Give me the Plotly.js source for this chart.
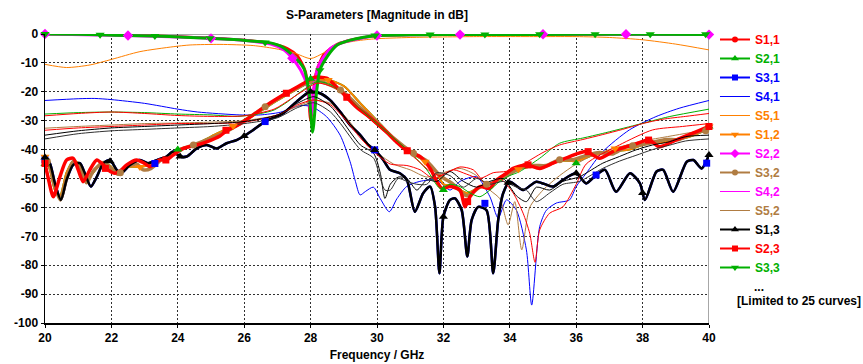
<!DOCTYPE html>
<html><head><meta charset="utf-8">
<script src="https://cdn.plot.ly/plotly-3.0.1.min.js"></script>
<style>body{margin:0;background:#fff}#chart{width:863px;height:364px}</style>
</head><body><div id="chart"></div>
<script>
// ---------- data (frequency in GHz, magnitude in dB) ----------
const xTicks = [20,22,24,26,28,30,32,34,36,38,40];
const yTicks = [0,-10,-20,-30,-40,-50,-60,-70,-80,-90,-100];

// S1,1 (red, circles) near 0 dB
const s11_f = [20,22,24,25,26,26.8,27.3,27.6,27.85,28.0,28.15,28.4,28.8,29.3,30,32,36,40];
const s11_db = [0,-0.3,-0.9,-1.4,-2.1,-3.2,-5,-7.5,-13,-30,-14,-7,-3.5,-1.8,-0.6,-0.2,-0.1,-0.1];

// S1,2 = S2,1 (shared trace data)
const s12_f = [20,20.15,20.3,20.45,20.65,20.85,21.05,21.25,21.45,21.7,21.95,22.2,22.5,22.86,23.2,23.5,23.8,24.0,24.5,25,25.67,26.3,27,27.6,28,28.53,29,29.5,30,30.5,31,31.45,31.8,32.0,32.3,32.7,33.1,33.5,33.9,34.26,34.7,35.1,35.5,36.0,36.5,37.17,37.6,38.1,38.6,39.1,39.6,40];
const s12_db = [-42.5,-47,-54,-56,-48,-44,-45,-50,-48,-44.5,-45.5,-48,-46,-46,-45,-43.5,-42,-40,-38.5,-35.5,-31.8,-28,-23,-19,-16.5,-15.9,-18,-24,-30,-36,-41,-44,-48,-52,-52.5,-55,-53,-51.5,-49,-46.8,-45.8,-45.5,-43.8,-44,-42,-40.5,-40,-38,-37.5,-36.5,-34.8,-32.5];
const s12_mf = [20,22.86,25.67,28.53,31.45,34.26,37.17,40];
const s12_mdb = [-42.5,-46,-31.8,-15.9,-44.2,-46.8,-39.6,-32];
const s21_mf = [20,24,28,32,36,40];
const s21_mdb = [-45,-40,-15.5,-54,-44.7,-32];

// S1,3 = S3,1 (shared trace data)
const s13_f = [20,20.15,20.3,20.48,20.65,20.85,21.05,21.2,21.38,21.56,21.76,21.96,22.16,22.31,22.56,22.86,23.1,23.4,23.66,23.86,24.07,24.27,24.57,24.87,25.17,25.47,25.77,26.0,26.27,26.63,27.18,27.58,27.98,28.28,28.58,28.89,29.19,29.49,29.74,29.93,30.19,30.39,30.69,30.9,31.14,31.39,31.6,31.75,31.88,32.0,32.2,32.35,32.55,32.72,32.85,33.05,33.3,33.5,33.65,33.8,34.0,34.4,34.8,35.3,35.6,36.0,36.3,36.6,36.87,37.2,37.62,37.92,38.07,38.42,38.62,38.92,39.33,39.53,39.78,40];
const s13_db = [-42.7,-44.8,-51.7,-57.4,-50.5,-45.3,-44.7,-48.2,-52.8,-49.4,-44.7,-43.6,-47,-48,-45.3,-43.6,-44.7,-43.5,-42.4,-40.7,-42.4,-42.4,-39.6,-38.4,-39.6,-37.8,-36.7,-35.3,-33.2,-30.3,-27.4,-23.4,-20,-20.5,-22.8,-26.9,-31.5,-34.9,-38.4,-40.1,-43.6,-47,-48.2,-50.5,-61.5,-55.1,-52.8,-59.8,-82.8,-63.2,-57.4,-56.9,-60.9,-77,-64.4,-59.8,-61,-82.8,-64.4,-55.1,-51.1,-54,-51.1,-52.8,-50.5,-48.2,-51.7,-48.8,-47,-54.6,-48.2,-51.7,-57.4,-47.6,-47,-54.6,-44.2,-43.6,-46.5,-41.9];
const s13_mf = [20,21.96,24.07,26,28,29.93,32,33.95,36,38,40];
const s13_mdb = [-42.7,-44,-42.4,-35.3,-20,-40.1,-63.2,-51.5,-48.2,-55,-41.9];
const s31_mf = [20,23.31,26.63,29.93,33.25,36.6,39.93];
const s31_mdb = [-43.5,-44.8,-30.3,-40.1,-58.6,-48.8,-44.7];

// S4,1 (blue thin)
const s41_f = [20,21,21.5,22,23,24,24.6,25.87,26.48,27.08,27.68,28.03,28.48,28.89,29.19,29.35,29.49,29.65,29.89,30.1,30.37,30.6,30.89,31.29,31.8,32.2,32.5,33.0,33.4,33.65,33.9,34.2,34.5,34.66,34.9,35.1,35.4,35.8,36.0,36.3,36.8,37.6,38.4,39.1,40];
const s41_db = [-23,-22.4,-22.3,-22.7,-24,-26,-27,-28,-28,-27.1,-24.8,-25.1,-28.6,-35,-44.2,-51,-55.7,-54.5,-53,-57,-61.5,-57,-52.8,-51,-50.5,-54,-51,-49.4,-56.3,-63.7,-57.4,-61,-74.7,-93.8,-66.7,-61,-58.5,-57.4,-52.8,-48.2,-40.7,-33.2,-28.6,-25.7,-23];

// S5,1 (orange thin)
const s51_f = [20,20.65,21.36,22,22.86,23.86,24.37,25.27,26.27,26.9,27.5,28.0,28.4,28.8,29.3,29.9,31,33,35,36,37,38,39,40];
const s51_db = [-10.5,-11.6,-10.7,-8.8,-6.1,-4.4,-3.8,-3.6,-4,-5,-6.5,-8.5,-6.5,-3.8,-2.5,-1.7,-1.2,-0.9,-0.9,-0.9,-1.2,-2,-3.5,-5.5];

// S2,2 (magenta, diamonds)
const s22_f = [20,22,22.5,24,25,26,26.8,27.2,27.45,27.7,27.9,28.02,28.15,28.3,28.6,29,29.5,30,32.5,35,37.5,40];
const s22_db = [0,-0.4,-0.5,-1,-1.5,-2.2,-3.5,-5.5,-8.4,-12.5,-18,-28,-16,-10,-5,-2.8,-1.5,-0.5,-0.2,-0.1,-0.1,-0.2];
const s22_mf = [20,22.5,25,27.45,30,32.5,35,37.5,40];
const s22_mdb = [0,-0.5,-1.5,-8.4,-0.5,-0.2,-0.1,-0.1,-0.2];

// S3,2 (brown thick, circles)
const s32_f = [20,20.15,20.3,20.46,20.65,20.85,21.05,21.25,21.45,21.76,21.95,22.2,22.45,22.76,22.96,23.2,23.5,23.8,24.07,24.47,25,25.5,26,26.63,27.3,27.9,28.3,28.9,29.5,30,30.5,31.1,31.5,31.9,32.3,32.7,33.1,33.5,33.9,34.3,34.7,35.1,35.5,35.9,36.3,36.7,37.1,37.5,37.9,38.3,38.7,39.1,39.5,40];
const s32_db = [-43,-46,-53,-57.4,-50,-44,-46,-51.5,-47.5,-44.5,-46,-48.5,-46,-45,-47,-46.5,-43.5,-42,-40,-38.4,-36,-33.5,-30,-25.2,-20.5,-17,-16.5,-19.4,-25.5,-30.5,-36,-41.3,-44,-49,-52,-56,-53,-51.5,-49,-46.5,-45.5,-45.5,-43.5,-43.5,-42,-41,-41.5,-39,-38.5,-37.5,-36.5,-36.5,-34.5,-33];
const s32_mf = [20.07,22.27,24.47,26.63,28.9,31.1,33.3,35.5,37.7,39.9];
const s32_mdb = [-44,-48,-38.4,-25.2,-19.4,-41.3,-52,-43.5,-38.7,-33.5];

// S4,2 (magenta thin)
const s42_f = [20,22,24,25,26,26.8,27.3,27.6,27.85,28.0,28.2,28.5,28.9,29.4,30,33,36,40];
const s42_db = [-0.1,-0.4,-1,-1.5,-2.2,-3.4,-5.5,-8.5,-14,-22,-11,-6,-3,-1.5,-0.6,-0.2,-0.2,-0.3];

// S5,2 (brown thin)
const s52_f = [20,21,22,23,24,25,26,27,27.6,28.1,28.6,29,29.5,30,30.5,31,31.5,32,32.5,33,33.4,33.7,33.95,34.15,34.36,34.6,35,35.5,36,36.5,37,37.5,38,38.5,39,39.5,40];
const s52_db = [-32.6,-32,-31.5,-31,-30.8,-30.5,-30,-28,-25,-23,-24,-28,-35,-41,-45,-47,-49.5,-48,-46.5,-49,-54,-57,-66,-58,-74.7,-60,-54,-49,-45,-42,-40,-38.5,-37,-36,-35,-34,-33.5];

// S2,3 (red thick, squares)
const s23_f = [20,20.1,20.25,20.45,20.65,20.85,21.0,21.15,21.35,21.56,21.76,21.9,22.1,22.3,22.46,22.76,23.0,23.16,23.46,23.66,23.86,24.17,24.57,24.87,25.27,25.47,25.87,26.27,26.68,27.26,27.88,28.1,28.48,28.8,29.09,29.4,29.69,30.0,30.29,30.6,30.9,31.3,31.6,31.8,31.95,32.2,32.5,32.65,32.8,33.1,33.4,33.6,33.9,34.1,34.5,34.9,35.3,35.8,36.3,36.7,37.2,37.7,38.2,38.5,39.0,39.5,40];
const s23_db = [-44.8,-50,-56.3,-49.4,-43.6,-43,-47,-51.1,-47,-43.6,-45.3,-47,-48.2,-47,-45.3,-43.6,-44.8,-45.9,-43.6,-43.6,-41.9,-39.6,-38.4,-37.3,-35.3,-33.5,-31.1,-28,-24.6,-20.5,-16.5,-15,-15.3,-18.5,-21.9,-25.5,-28,-31,-34,-37.5,-40.4,-42.4,-46.5,-51,-53.4,-52.8,-54,-59.8,-56.3,-52.8,-53.4,-50.5,-48.2,-46.5,-45.3,-46.5,-44.7,-42.4,-40.7,-43,-40.1,-38.4,-36.7,-39,-36.7,-34.4,-32];
const s23_mf = [20,21.82,23.64,25.45,27.27,29.09,30.91,32.73,34.55,36.36,38.18,40];
const s23_mdb = [-44.8,-46.5,-43.6,-33.3,-20.5,-21.9,-40.4,-58,-45.3,-40.7,-36.7,-32];

// S3,3 (green thick, triangles down)
const s33_f = [20,21,21.66,22.5,23.3,24.2,24.97,25.5,25.9,26.3,26.7,27.1,27.4,27.65,27.8,27.95,28.06,28.18,28.28,28.5,28.8,29.2,29.6,30,31,32,34,36,38,40];
const s33_db = [0,-0.1,-0.3,-0.5,-0.7,-1.1,-1.5,-1.8,-2.1,-2.5,-2.9,-4.2,-6.7,-9.5,-12,-20,-34,-20,-12.5,-7.8,-3.8,-2.1,-1.1,-0.5,-0.3,-0.2,-0.2,-0.1,-0.1,-0.2];
const s33_mf = [20,21.66,23.31,24.97,26.63,28.28,29.94,31.6,33.25,34.9,36.57,38.23,39.9];
const s33_mdb = [0,-0.3,-0.7,-1.5,-2.9,-12.5,-0.5,-0.2,-0.2,-0.1,-0.1,-0.1,-0.1];

// further curves beyond the legend (thin)
const g1_f = [20,21,22,23,24,25,25.8,26.5,26.9,27.3,27.7,28.2,28.6,29.0,29.5,30,30.5,31,31.5,31.9,32.2,32.5,32.8,33.1,33.4,33.7,34.0,34.3,34.9,35.5,36.2,36.8,37.8,38.8,40];
const g1_db = [-27.7,-27.2,-27,-27.2,-27.7,-28,-28.5,-27.5,-26.3,-23.5,-20,-16.5,-17.5,-21,-26,-31,-36,-41,-47,-53.4,-52,-52.8,-55,-56.3,-54,-51,-49,-47.6,-43,-37.8,-36,-34.4,-31.5,-28.6,-26];
const r1_f = [20,21,22,23,24,25,26,26.9,27.4,27.8,28.2,28.7,29.2,29.7,30.2,30.7,31.2,31.6,31.9,32.3,32.7,33.1,33.5,33.9,34.4,35,35.5,36.2,36.8,37.4,38,38.6,39.3,40];
const r1_db = [-28.3,-27.5,-27,-27.5,-28.2,-28.5,-28.3,-26,-22.5,-19.5,-17,-18.5,-23,-28.5,-33.5,-38.5,-43.5,-47.5,-49,-47,-48.5,-50,-48,-47.5,-45,-41,-38.4,-36.5,-34.8,-33,-31,-29.5,-28.5,-27.5];
const r2_f = [20,21,22,23,24,25,26,27,27.6,28.1,28.6,29.0,29.5,29.9,30.4,30.9,31.3,31.7,32.1,32.5,32.9,33.3,33.7,34.1,34.4,34.6,34.76,34.9,35.2,35.6,36.0,36.3,37.3,38.3,39.2,40];
const r2_db = [-33.3,-32.5,-32,-31.5,-31,-31,-30.5,-28,-24.5,-22.8,-24.5,-29,-36,-40.7,-45,-45.5,-47,-50,-48,-46,-47,-52,-50,-55,-62,-69,-79,-67.8,-62,-59.8,-52,-45,-38.4,-33.2,-32,-31];
const k_f = [20,21,22,23,24,25,26,27,27.6,28.1,28.6,28.9,29.5,29.9,30.1,30.24,30.4,30.64,30.9,31.2,31.5,31.8,32.2,32.6,33.0,33.4,33.8,34.2,34.5,34.8,35.2,35.6,36.1,36.8,37.3,37.8,38.3,38.8,39.3,40];
const k1_db = [-35,-33.5,-32.5,-32,-31.5,-31,-30.3,-28,-24,-21.7,-25,-29.2,-38.4,-41.3,-48.2,-56.9,-52,-49.5,-50,-54,-50.5,-51,-47.6,-51,-53,-51,-50,-56,-58,-53,-54,-51,-49.4,-44.7,-42.4,-40.1,-38.4,-37.3,-35.5,-35];
const k2_db = [-36.3,-34.5,-33.5,-33,-32.5,-32,-31,-29,-25.5,-23.8,-27,-31,-40,-43,-50,-54,-54,-50,-51,-52,-52,-48,-49,-53,-50,-52,-51,-53,-54,-58,-55,-52,-51,-46.5,-44,-42,-40,-38.5,-37,-36.3];

// ---------- styles ----------
const RED='#ff0000', GRN='#00b000', BLU='#0000ff', ORG='#ff8000', MAG='#ff00ff', BRN='#b07c42', BLK='#000000';
const FONT = 'Liberation Sans, Arial, sans-serif';

function line(x,y,color,width){
  return {type:'scatter',mode:'lines',x:x,y:y,line:{color:color,width:width,shape:'spline',smoothing:0.7},showlegend:false,hoverinfo:'skip'};
}
function marks(x,y,color,symbol,size){
  return {type:'scatter',mode:'markers',x:x,y:y,marker:{color:color,symbol:symbol,size:size,line:{width:0}},showlegend:false,cliponaxis:false,hoverinfo:'skip'};
}
function leg(name,color,width,symbol,size){
  const t={type:'scatter',x:[null],y:[null],name:'<span style="color:'+color+'">'+name+'</span>',
    mode: symbol?'lines+markers':'lines', line:{color:color,width:width}, showlegend:true, hoverinfo:'skip'};
  if(symbol) t.marker={color:color,symbol:symbol,size:size,line:{width:0}};
  return t;
}

const traces = [
  leg('S1,1',RED,2,'circle',6),
  leg('S2,1',GRN,2,'triangle-up',7),
  leg('S3,1',BLU,2,'square',6),
  leg('S4,1',BLU,1,null),
  leg('S5,1',ORG,1,null),
  leg('S1,2',ORG,2,'triangle-down',7),
  leg('S2,2',MAG,2,'diamond',7),
  leg('S3,2',BRN,2,'circle',6),
  leg('S4,2',MAG,1,null),
  leg('S5,2',BRN,1,null),
  leg('S1,3',BLK,2,'triangle-up',7),
  leg('S2,3',RED,2,'square',6),
  leg('S3,3',GRN,2,'triangle-down',7),
  // curves
  line(s11_f,s11_db,RED,2.5),
  line(s12_f,s12_db,GRN,2),
  line(s13_f,s13_db,BLU,2.5),
  line(s41_f,s41_db,BLU,1),
  line(s51_f,s51_db,ORG,1),
  line(s12_f,s12_db,ORG,2),
  line(s22_f,s22_db,MAG,3),
  line(s32_f,s32_db,BRN,3.5),
  line(s42_f,s42_db,MAG,1),
  line(s52_f,s52_db,BRN,1),
  line(s13_f,s13_db,BLK,2.5),
  line(s23_f,s23_db,RED,3.5),
  line(s33_f,s33_db,GRN,3),
  line(g1_f,g1_db,GRN,1),
  line(r1_f,r1_db,RED,1),
  line(r2_f,r2_db,RED,1),
  line(k_f,k1_db,BLK,1),
  line(k_f,k2_db,'#303030',1),
  // markers
  marks(s21_mf,s21_mdb,GRN,'triangle-up',8),
  marks(s31_mf,s31_mdb,BLU,'square',7),
  marks(s12_mf,s12_mdb,ORG,'triangle-down',8),
  marks(s22_mf,s22_mdb,MAG,'diamond',8),
  marks(s32_mf,s32_mdb,BRN,'circle',7),
  marks(s13_mf,s13_mdb,BLK,'triangle-up',8),
  marks(s23_mf,s23_mdb,RED,'square',7),
  marks(s33_mf,s33_mdb,GRN,'triangle-down',8)
];

const tickFont = {family:FONT,size:12,weight:'bold',color:'#000'};
const axisCommon = {showgrid:true,gridcolor:'#303030',griddash:'2px,2px',gridwidth:1,
  showline:true,linecolor:'#000',linewidth:1.5,ticks:'outside',ticklen:3,tickcolor:'#000',
  zeroline:false,tickfont:tickFont,fixedrange:true};

const layout = {
  width:863,height:364,
  margin:{l:45,r:154,t:34,b:41,pad:0},
  paper_bgcolor:'#fff',plot_bgcolor:'#fff',
  title:{text:'S-Parameters [Magnitude in dB]',font:{family:FONT,size:12,weight:'bold',color:'#000'},
    x:0.5,xref:'paper',xanchor:'center',y:1-15/364,yref:'container',yanchor:'middle'},
  xaxis:Object.assign({},axisCommon,{range:[20,40],tickvals:xTicks,ticktext:xTicks.map(String),
    title:{text:'Frequency / GHz',font:{family:FONT,size:12,weight:'bold',color:'#000'},standoff:6}}),
  yaxis:Object.assign({},axisCommon,{range:[-100,0],tickvals:yTicks,ticktext:yTicks.map(String)}),
  showlegend:true,
  legend:{x:1.009,xanchor:'left',y:1+9/289,yanchor:'top',bgcolor:'rgba(0,0,0,0)',borderwidth:0,maxheight:330,
    font:{family:FONT,size:12,weight:'bold',color:'#000'},itemwidth:30,tracegroupgap:0,traceorder:'normal'},
  shapes:[
    {type:'line',xref:'x',yref:'y',x0:20,x1:40,y0:0,y1:0,line:{color:'#8a8a8a',width:1.5},layer:'below'},
    {type:'line',xref:'x',yref:'y',x0:40,x1:40,y0:-100,y1:0,line:{color:'#8a8a8a',width:1.5},layer:'below'}
  ],
  annotations:[
    {text:'...',xref:'paper',yref:'paper',x:(752-45)/664,y:(323-287)/289,xanchor:'left',yanchor:'middle',showarrow:false,
      font:{family:FONT,size:12,weight:'bold',color:'#000'}},
    {text:'[Limited to 25 curves]',xref:'paper',yref:'paper',x:(735-45)/664,y:(323-301)/289,xanchor:'left',yanchor:'middle',showarrow:false,
      font:{family:FONT,size:12,weight:'bold',color:'#000'}}
  ]
};

Plotly.newPlot('chart',traces,layout,{displayModeBar:false,staticPlot:true});
</script></body></html>
